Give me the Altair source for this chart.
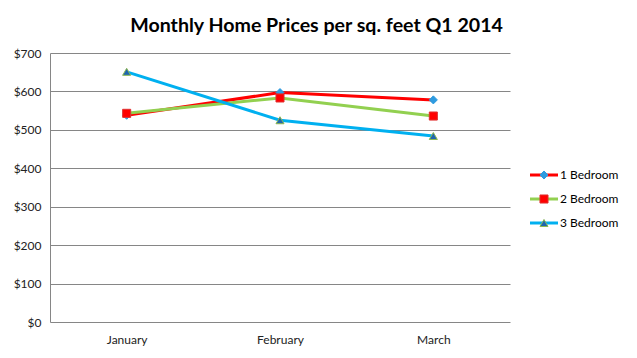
import altair as alt
import pandas as pd

months = ["January", "February", "March"]
series = ["1 Bedroom", "2 Bedroom", "3 Bedroom"]
br1 = [538, 597, 578]
br2 = [543, 583, 536]
br3 = [651, 525, 484]

line_colors = ["#FF0000", "#92D050", "#00B0F0"]
marker_fill = ["#2E9BE0", "#FF0000", "#1F66B0"]
marker_stroke = ["#2E9BE0", "#E03030", "#8DB850"]
marker_shapes = ["diamond", "square", "triangle-up"]

rows = []
for s, vals in zip(series, [br1, br2, br3]):
    for m, v in zip(months, vals):
        rows.append({"Month": m, "Series": s, "Price": v})
df = pd.DataFrame(rows)
legend_df = pd.DataFrame({"Series": series})

FONT = "Lato"
color_scale = alt.Scale(domain=series, range=line_colors)
fill_scale = alt.Scale(domain=series, range=marker_fill)
stroke_scale = alt.Scale(domain=series, range=marker_stroke)
shape_scale = alt.Scale(domain=series, range=marker_shapes)

base = alt.Chart(df).encode(
    x=alt.X("Month:N", sort=months, title=None,
            scale=alt.Scale(type="point", padding=0.5),
            axis=alt.Axis(labelAngle=0, ticks=False, domain=False, labelPadding=12,
                          labelFont=FONT, labelFontSize=12, labelColor="#222")),
    y=alt.Y("Price:Q", title=None,
            scale=alt.Scale(domain=[0, 700], nice=False),
            axis=alt.Axis(values=[0, 100, 200, 300, 400, 500, 600, 700], format="$,d",
                          ticks=False, labelPadding=9, labelFont=FONT, labelFontSize=12,
                          labelColor="#222", domainColor="#868686", gridColor="#868686",
                          gridWidth=1)),
)

lines = base.mark_line(strokeWidth=3).encode(
    color=alt.Color("Series:N", scale=color_scale, legend=None),
    detail="Series:N",
)
points = base.mark_point(filled=True, size=65, opacity=1, strokeWidth=1).encode(
    shape=alt.Shape("Series:N", scale=shape_scale, legend=None),
    fill=alt.Fill("Series:N", scale=fill_scale, legend=None),
    stroke=alt.Stroke("Series:N", scale=stroke_scale, legend=None),
)
main = alt.layer(lines, points).properties(width=460, height=269)

LEG_SHIFT = 110
ly = alt.Y("Series:N", sort=series, axis=None,
           scale=alt.Scale(type="point", padding=0.5))
leg_base = alt.Chart(legend_df).encode(y=ly)
leg_rule = leg_base.mark_rule(strokeWidth=3, yOffset=LEG_SHIFT).encode(
    x=alt.value(0), x2=alt.value(28),
    color=alt.Color("Series:N", scale=color_scale, legend=None),
)
leg_pts = leg_base.mark_point(filled=True, size=65, opacity=1, strokeWidth=1,
                              yOffset=LEG_SHIFT).encode(
    x=alt.value(14),
    shape=alt.Shape("Series:N", scale=shape_scale, legend=None),
    fill=alt.Fill("Series:N", scale=fill_scale, legend=None),
    stroke=alt.Stroke("Series:N", scale=stroke_scale, legend=None),
)
leg_text = leg_base.mark_text(align="left", baseline="middle", font=FONT, fontSize=12,
                              color="#000", yOffset=LEG_SHIFT).encode(
    x=alt.value(30), text="Series:N")
legend = alt.layer(leg_rule, leg_pts, leg_text).properties(width=90, height=72)

chart = alt.hconcat(main, legend, spacing=20, bounds="flush").properties(
    title=alt.TitleParams("Monthly Home Prices per sq. feet Q1 2014", font=FONT,
                          fontSize=19.6, fontWeight="bold", color="#000",
                          anchor="middle", offset=10, dx=0),
    padding={"top": 8, "left": 5, "right": 5, "bottom": 5},
    background="white",
).configure_view(stroke=None)

chart.save("out.html", embed_options={"renderer": "svg", "actions": False})
